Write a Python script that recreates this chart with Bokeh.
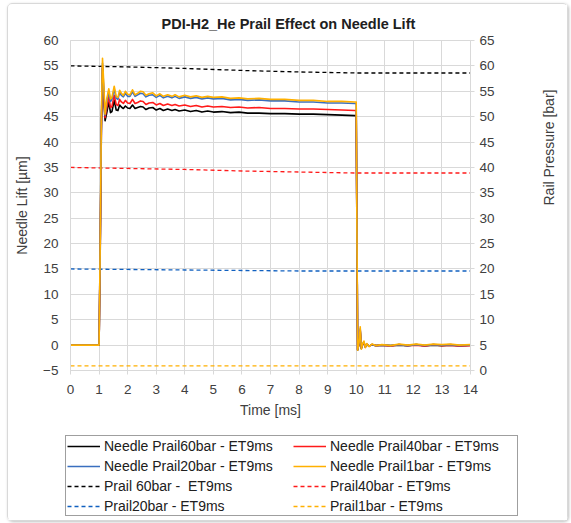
import math
from bokeh.plotting import figure
from bokeh.layouts import column, row
from bokeh.models import Range1d, LinearAxis, FixedTicker, Legend, LegendItem
from bokeh.embed import file_html
from bokeh.resources import INLINE

# ---- data ----
time_ms = [0, 1.0, 1.04, 1.08, 1.12, 1.16, 1.21, 1.27, 1.34, 1.40, 1.45, 1.53, 1.60, 1.66, 1.72,
           1.78, 1.85, 1.92, 2.00, 2.08, 2.17, 2.26, 2.35, 2.45, 2.54, 2.64, 2.75, 2.88, 3.0, 3.13,
           3.25, 3.40, 3.55, 3.66, 3.80, 4.0, 4.2, 4.4, 4.6, 4.8, 5.0, 5.3, 5.6, 5.9, 6.2, 6.6,
           7.0, 7.5, 8.0, 8.5, 9.0, 9.5, 9.95, 10.0, 10.05, 10.1, 10.14, 10.18, 10.22, 10.27,
           10.32, 10.37, 10.45, 10.55, 10.7, 10.9, 11.2, 11.5, 11.8, 12.1, 12.4, 12.7, 13.0,
           13.3, 13.6, 14.0]

needle_60bar = [0, 0, 18, 42, 54.5, 49, 44.2, 45.8, 47.9, 45.8, 46.0, 48.2, 46.3, 46.2, 47.3,
                46.9, 46.6, 47.1, 46.7, 46.6, 47.3, 46.6, 46.8, 47.0, 46.9, 46.4, 46.7, 46.8, 46.3, 46.6,
                46.2, 46.5, 46.2, 46.4, 46.1, 46.3, 46.0, 46.2, 45.9, 46.1, 45.9, 46.0, 45.8, 45.9, 45.7,
                45.7, 45.6, 45.6, 45.5, 45.5, 45.4, 45.3, 45.2, 45.2, -1.0, 0.3, 2.8, -0.6, 0.1, 0.4,
                -0.3, 0.1, -0.2, 0.1, -0.1, 0.0, -0.1, 0.0, -0.1, 0.1, -0.1, 0.0, -0.1, 0.0, -0.1, 0.0]
needle_40bar = [0, 0, 19, 43, 55.0, 50, 44.8, 46.8, 48.9, 46.8, 47.0, 49.2, 47.4, 47.2, 48.4,
                47.9, 47.6, 48.2, 47.7, 47.6, 48.4, 47.6, 47.8, 48.1, 48.0, 47.4, 47.7, 47.8, 47.3, 47.6,
                47.2, 47.5, 47.2, 47.4, 47.1, 47.3, 47.0, 47.2, 46.9, 47.1, 46.9, 47.0, 46.8, 46.9, 46.7,
                46.8, 46.6, 46.6, 46.5, 46.5, 46.4, 46.3, 46.2, 46.2, -0.9, 0.3, 3.0, -0.6, 0.1, 0.5,
                -0.4, 0.2, -0.2, 0.1, -0.1, 0.0, -0.2, 0.1, -0.1, 0.0, -0.2, 0.1, -0.1, 0.0, -0.2, -0.1]
needle_20bar = [0, 0, 20, 44, 55.5, 51, 45.3, 48, 50.0, 48.0, 48.4, 50.4, 48.6, 48.4, 49.8,
                49.2, 48.9, 49.6, 49.0, 49.0, 49.9, 49.0, 49.3, 49.6, 49.5, 48.9, 49.2, 49.3, 48.8, 49.2,
                48.7, 49.0, 48.7, 49.0, 48.6, 48.9, 48.6, 48.8, 48.5, 48.7, 48.5, 48.6, 48.3, 48.4, 48.2,
                48.3, 48.1, 48.1, 47.9, 47.9, 47.7, 47.7, 47.6, 47.6, -0.9, 0.4, 3.2, -0.7, 0.2, 0.6,
                -0.4, 0.2, -0.2, 0.1, -0.1, 0.0, -0.1, 0.1, -0.1, 0.1, -0.1, 0.1, 0.0, 0.1, -0.1, 0.0]
needle_1bar = [0, 0, 20, 45, 56.5, 52, 45.5, 48.5, 50.5, 48.5, 48.8, 51.0, 49.0, 48.8, 50.2,
               49.6, 49.2, 50.0, 49.4, 49.3, 50.3, 49.3, 49.6, 50.0, 49.9, 49.2, 49.5, 49.7, 49.1, 49.5,
               49.0, 49.3, 49.0, 49.3, 48.9, 49.2, 48.9, 49.1, 48.8, 49.0, 48.8, 48.9, 48.6, 48.7, 48.5,
               48.6, 48.4, 48.4, 48.2, 48.2, 48.0, 48.0, 47.9, 47.9, -1.0, 0.5, 3.6, -0.8, 0.2, 0.8,
               -0.5, 0.3, -0.3, 0.2, -0.1, 0.1, -0.1, 0.2, 0.0, 0.2, 0.0, 0.2, 0.1, 0.2, 0.0, 0.1]

prail_time = [0, 2, 4, 6, 8, 10, 12, 14]
prail_60bar = [60.0, 59.8, 59.5, 59.1, 58.8, 58.6, 58.6, 58.6]
prail_40bar = [40.0, 39.8, 39.6, 39.3, 39.1, 38.9, 38.9, 38.9]
prail_20bar = [20.0, 19.9, 19.8, 19.7, 19.6, 19.6, 19.6, 19.6]
prail_1bar = [0.9, 0.9, 0.9, 0.9, 0.9, 0.9, 0.9, 0.9]

x_ticks = list(range(0, 15))
left_ticks = list(range(-5, 65, 5))
right_ticks = list(range(0, 70, 5))

needle_labels = ["Needle Prail60bar - ET9ms", "Needle Prail40bar - ET9ms",
                 "Needle Prail20bar - ET9ms", "Needle Prail1bar - ET9ms"]
prail_labels = ["Prail 60bar -  ET9ms", "Prail40bar - ET9ms",
                "Prail20bar - ET9ms", "Prail1bar - ET9ms"]
needle_colors = ["#000000", "#ff1a1a", "#3a6fbf", "#ffb000"]
prail_colors = ["#000000", "#ff1a1a", "#1060c0", "#ffb000"]

FONT = "Liberation Sans"
GRID = "#d9d9d9"
TXT = "#404040"
W = 559

# ---- main chart ----
p = figure(width=W, height=421, output_backend="svg", toolbar_location=None,
           x_range=Range1d(0, 14), y_range=Range1d(-5, 60),
           min_border_left=62, min_border_right=94, min_border_top=36, min_border_bottom=55,
           title="PDI-H2_He Prail Effect on Needle Lift")
p.extra_y_ranges = {"right": Range1d(0, 65)}

p.title.text_font = FONT
p.title.text_font_size = "14.5px"
p.title.text_font_style = "bold"
p.title.text_color = "#202020"
p.title.align = "left"
p.title.offset = 91
p.title.standoff = 18

p.outline_line_color = GRID
p.xgrid.grid_line_color = GRID
p.ygrid.grid_line_color = GRID

p.xaxis.ticker = FixedTicker(ticks=x_ticks)
p.yaxis.ticker = FixedTicker(ticks=left_ticks)
p.xaxis.axis_label = "Time [ms]"
p.yaxis.axis_label = "Needle Lift [µm]"

right_axis = LinearAxis(y_range_name="right", ticker=FixedTicker(ticks=right_ticks),
                        axis_label="Rail Pressure [bar]")
p.add_layout(right_axis, "right")
right_axis.axis_label_orientation = math.pi / 2

for ax in [p.xaxis[0], p.yaxis[0], right_axis]:
    ax.axis_line_color = GRID
    ax.major_tick_line_color = GRID
    ax.minor_tick_line_color = None
    ax.major_tick_in = 0
    ax.major_tick_out = 4
    ax.major_label_text_font = FONT
    ax.major_label_text_font_size = "13.5px"
    ax.major_label_text_color = TXT
    ax.axis_label_text_font = FONT
    ax.axis_label_text_font_size = "14px"
    ax.axis_label_text_font_style = "normal"
    ax.axis_label_text_color = TXT
p.yaxis[0].major_tick_out = 0
p.yaxis[0].major_label_standoff = 12
p.yaxis[0].axis_label_standoff = 10
right_axis.major_label_standoff = 5
right_axis.axis_label_standoff = 51
p.xaxis[0].major_label_standoff = 10
p.xaxis[0].axis_label_standoff = 5

prail_series = [prail_60bar, prail_40bar, prail_20bar, prail_1bar]
needle_series = [needle_60bar, needle_40bar, needle_20bar, needle_1bar]

for vals, col in zip(prail_series, prail_colors):
    p.line(prail_time, vals, y_range_name="right", line_color=col, line_width=1.3,
           line_dash="4 3")
for vals, col in zip(needle_series, needle_colors):
    p.line(time_ms, vals, line_color=col, line_width=1.6, line_join="round")

# ---- legend panel (separate strip below the chart) ----
lg = figure(width=W, height=95, output_backend="svg", toolbar_location=None,
            x_range=Range1d(100, 101), y_range=Range1d(100, 101),
            x_axis_location=None, y_axis_location=None,
            min_border_left=0, min_border_right=0, min_border_top=0, min_border_bottom=0)
lg.outline_line_color = None
lg.grid.visible = False

leg_needles = [lg.line(time_ms, vals, line_color=col, line_width=1.6)
               for vals, col in zip(needle_series, needle_colors)]
leg_prails = [lg.line(prail_time, vals, line_color=col, line_width=1.3, line_dash="4 3")
              for vals, col in zip(prail_series, prail_colors)]

items = [LegendItem(label=lab, renderers=[r]) for lab, r in zip(needle_labels, leg_needles)]
items += [LegendItem(label=lab, renderers=[r]) for lab, r in zip(prail_labels, leg_prails)]

legend = Legend(items=items, orientation="horizontal", ncols=2, location=(57, 4))
legend.label_text_font = FONT
legend.label_text_font_size = "14px"
legend.label_text_color = "#202020"
legend.glyph_width = 33
legend.glyph_height = 14
legend.label_standoff = 4
legend.label_width = 186
legend.label_height = 17
legend.spacing = 3
legend.padding = 1
legend.margin = 0
legend.border_line_color = "#404040"
legend.border_line_width = 1
legend.background_fill_alpha = 1
lg.add_layout(legend, "center")

layout = column(p, row(lg), spacing=0,
                styles={"margin-left": "7px", "margin-top": "3px",
                        "border": "1px solid #d9d9d9", "border-radius": "5px",
                        "box-shadow": "1px 1px 3px rgba(0,0,0,0.25)"})

open("out.html", "w").write(file_html(layout, INLINE))
